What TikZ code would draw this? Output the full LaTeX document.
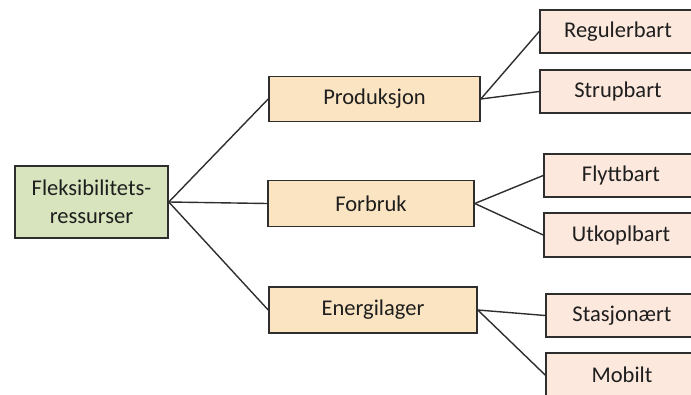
\documentclass[tikz,border=0pt]{standalone}
\usepackage{fontspec}
\setmainfont{Carlito}
\definecolor{rootfill}{HTML}{D7E4BD}
\definecolor{midfill}{HTML}{FBE4C2}
\definecolor{leaffill}{HTML}{FCE8DC}
\definecolor{edge}{HTML}{2E2E2E}
\definecolor{txt}{HTML}{1E1E1E}
\begin{document}
\begin{tikzpicture}[x=1pt,y=-1pt,
  box/.style={draw=edge, line width=1.6pt, text=txt, font=\fontsize{22.5}{28}\selectfont, inner sep=0pt, align=center},
  rootbox/.style={box, fill=rootfill, minimum width=153pt, minimum height=72pt},
  midbox/.style={box, fill=midfill, minimum height=45pt},
  leafbox/.style={box, fill=leaffill, minimum width=156pt, minimum height=43pt},
  link/.style={draw=edge, line width=1.4pt}]
\useasboundingbox (0,0) rectangle (691,394);
\clip (0,0) rectangle (691,394);
\node[rootbox] (root) at (91.5,202) {Fleksibilitets-\\ressurser};
\node[midbox, minimum width=211pt] (prod) at (374.5,99) {Produksjon};
\node[midbox, minimum width=206pt, minimum height=46pt] (forb) at (371,203.5) {Forbruk};
\node[midbox, minimum width=208pt, minimum height=46pt] (ener) at (373,310) {Energilager};
\node[leafbox] (reg) at (618,31.5) {Regulerbart};
\node[leafbox] (strup) at (618,91.5) {Strupbart};
\node[leafbox, minimum width=154pt] (flytt) at (621,175.5) {Flyttbart};
\node[leafbox, minimum width=154pt, minimum height=44pt] (utk) at (621,235) {Utkoplbart};
\node[leafbox, minimum width=152pt] (stas) at (622,315.5) {Stasjonært};
\node[leafbox, minimum width=152pt, minimum height=44pt] (mob) at (622,375) {Mobilt};
\draw[link] (root.east) -- (prod.west);
\draw[link] (root.east) -- (forb.west);
\draw[link] (root.east) -- (ener.west);
\draw[link] (prod.east) -- (reg.west);
\draw[link] (prod.east) -- (strup.west);
\draw[link] (forb.east) -- (flytt.west);
\draw[link] (forb.east) -- (utk.west);
\draw[link] (ener.east) -- (stas.west);
\draw[link] (ener.east) -- (mob.west);
\end{tikzpicture}
\end{document}
